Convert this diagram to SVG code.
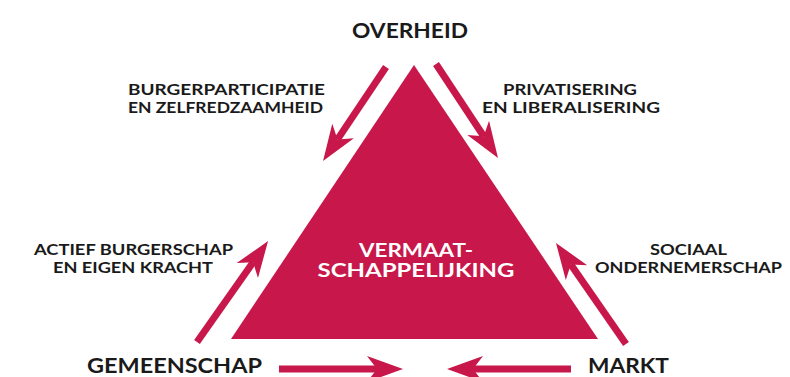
<svg xmlns="http://www.w3.org/2000/svg" width="790" height="377" viewBox="0 0 790 377">
<style>
.lbl{font-family:Lato,"Open Sans","Liberation Sans",sans-serif;font-weight:700;fill:#1a1a1a;text-anchor:middle}
.small{font-size:16px}
.big{font-size:21px}
.inner{font-family:Lato,"Open Sans","Liberation Sans",sans-serif;font-weight:700;fill:#ffffff;text-anchor:middle;font-size:18px}
.arr{stroke:#c8174a;stroke-width:7;fill:none;marker-end:url(#head)}
</style>
<defs>
<marker id="head" markerUnits="userSpaceOnUse" markerWidth="40" markerHeight="30" refX="12" refY="15" orient="auto" viewBox="0 0 40 30" overflow="visible">
<path d="M38,15 L2,2 L12,15 L2,28 Z" fill="#c8174a"/>
</marker>
</defs>
<rect width="790" height="377" fill="#ffffff"/>
<g id="triangle">
<polygon points="414,65 598,339 231,339" fill="#c8174a"/>
<text class="inner" x="416" y="256.5" textLength="114" lengthAdjust="spacingAndGlyphs">VERMAAT-</text>
<text class="inner" x="416" y="277" textLength="197" lengthAdjust="spacingAndGlyphs">SCHAPPELIJKING</text>
</g>
<g id="overheid"><text class="lbl big" x="410" y="38" textLength="116" lengthAdjust="spacingAndGlyphs">OVERHEID</text></g>
<g id="gemeenschap"><text class="lbl big" x="174.5" y="373" textLength="175" lengthAdjust="spacingAndGlyphs">GEMEENSCHAP</text></g>
<g id="markt"><text class="lbl big" x="628.5" y="373" textLength="81" lengthAdjust="spacingAndGlyphs">MARKT</text></g>
<g id="label-burgerparticipatie">
<text class="lbl small" x="226.5" y="95" textLength="197" lengthAdjust="spacingAndGlyphs">BURGERPARTICIPATIE</text>
<text class="lbl small" x="225.5" y="113" textLength="195" lengthAdjust="spacingAndGlyphs">EN ZELFREDZAAMHEID</text>
</g>
<g id="label-privatisering">
<text class="lbl small" x="570" y="95" textLength="134" lengthAdjust="spacingAndGlyphs">PRIVATISERING</text>
<text class="lbl small" x="571" y="113" textLength="178" lengthAdjust="spacingAndGlyphs">EN LIBERALISERING</text>
</g>
<g id="label-actief">
<text class="lbl small" x="133.5" y="255" textLength="199" lengthAdjust="spacingAndGlyphs">ACTIEF BURGERSCHAP</text>
<text class="lbl small" x="133" y="273" textLength="160" lengthAdjust="spacingAndGlyphs">EN EIGEN KRACHT</text>
</g>
<g id="label-sociaal">
<text class="lbl small" x="688.5" y="255" textLength="77" lengthAdjust="spacingAndGlyphs">SOCIAAL</text>
<text class="lbl small" x="688.5" y="273" textLength="187" lengthAdjust="spacingAndGlyphs">ONDERNEMERSCHAP</text>
</g>
<g id="connectors">
<line class="arr" x1="386" y1="67" x2="337.5" y2="139.4"/>
<line class="arr" x1="436" y1="64" x2="483.7" y2="136.3"/>
<line class="arr" x1="197" y1="342" x2="253.1" y2="262.3"/>
<line class="arr" x1="626" y1="344" x2="570.8" y2="264.4"/>
<line class="arr" x1="279" y1="369" x2="377" y2="369"/>
<line class="arr" x1="571" y1="369" x2="473" y2="369"/>
</g>
</svg>
